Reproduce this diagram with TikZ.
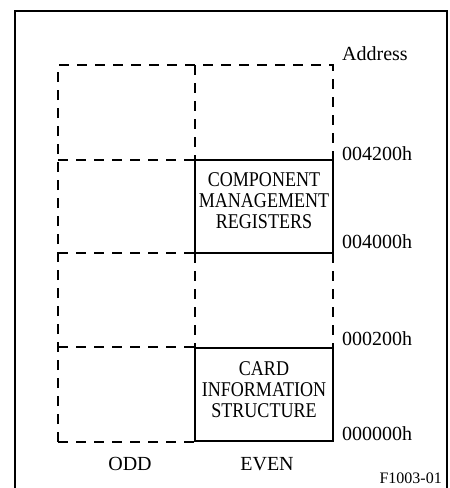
\documentclass[tikz,border=0pt]{standalone}
\usepackage{fontspec}
\setmainfont{Liberation Serif}
\newfontfamily\narrowfont[FakeStretch=0.86]{Liberation Serif}
\usepackage{tikz}

\begin{document}
\begin{tikzpicture}[x=1pt,y=-1pt,
  cell/.style={line width=1.8pt,dash pattern=on 10pt off 8pt},
  membox/.style={draw,line width=1.8pt,inner sep=0pt,minimum width=138pt,minimum height=93pt},
  boxtext/.style={align=center,inner sep=0pt,font=\narrowfont\fontsize{21}{21}\selectfont},
  addr/.style={anchor=base west,inner sep=0pt,font=\fontsize{20}{24}\selectfont}]
\clip (0,0) rectangle (450,488);
% frame
\draw[line width=1.5pt] (15,500) -- (15,11) -- (447,11) -- (447,500);
% dashed cells
\draw[cell] (58,442) -- (58,65) -- (333,65) -- (333,160);
\draw[cell] (195,65) -- (195,160);
\draw[cell] (58,160) -- (195,160);
\draw[cell] (58,253) -- (195,253);
\draw[cell] (195,253) -- (195,347);
\draw[cell] (333,253) -- (333,347);
\draw[cell] (58,347) -- (195,347);
\draw[cell] (58,442) -- (195,442);
% solid blocks
\node[membox] (cmr) at (264,206.5) {};
\node[boxtext] (cmrtext) at ([yshift=6pt]cmr.center) {COMPONENT\\MANAGEMENT\\REGISTERS};
\node[membox] (cis) at (264,394.5) {};
\node[boxtext] (cistext) at ([yshift=5pt]cis.center) {CARD\\INFORMATION\\STRUCTURE};
% addresses
\node[addr] (addrhd) at (342,60) {Address};
\node[addr] (a4200) at (342,160) {004200h};
\node[addr] (a4000) at (342,248) {004000h};
\node[addr] (a0200) at (342,345) {000200h};
\node[addr] (a0000) at (342,440) {000000h};
% columns
\node[anchor=base,font=\fontsize{20}{24}\selectfont] (odd) at (130,470) {ODD};
\node[anchor=base,font=\fontsize{20}{24}\selectfont] (even) at (267,470) {EVEN};
\node[anchor=base east,inner sep=0pt,font=\fontsize{16}{18}\selectfont] (fig) at (442,483) {F1003-01};
\end{tikzpicture}
\end{document}
